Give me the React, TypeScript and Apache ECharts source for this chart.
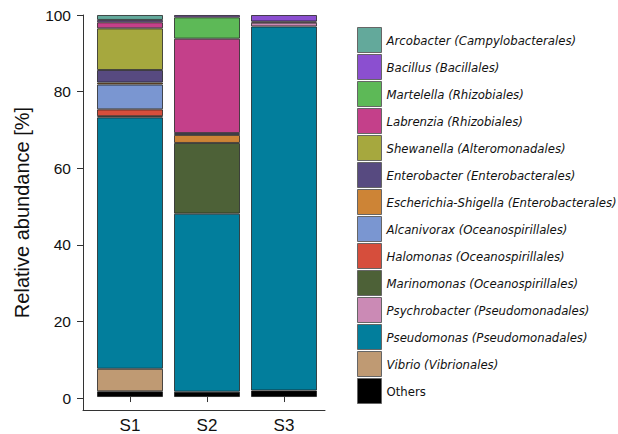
import React, { useEffect, useRef } from "react";
import * as echarts from "echarts";

// Samples
const samples = ["S1", "S2", "S3"];

// Taxa (bottom of stack first), values in % for S1, S2, S3
const taxa = [
  "Others",
  "Vibrio (Vibrionales)",
  "Pseudomonas (Pseudomonadales)",
  "Psychrobacter (Pseudomonadales)",
  "Marinomonas (Oceanospirillales)",
  "Halomonas (Oceanospirillales)",
  "Alcanivorax (Oceanospirillales)",
  "Escherichia-Shigella (Enterobacterales)",
  "Enterobacter (Enterobacterales)",
  "Shewanella (Alteromonadales)",
  "Labrenzia (Rhizobiales)",
  "Martelella (Rhizobiales)",
  "Bacillus (Bacillales)",
  "Arcobacter (Campylobacterales)",
];

const others = [1.5, 1.4, 1.7];
const vibrio = [5.9, 0, 0];
const pseudomonas = [65.8, 46.6, 95.3];
const psychrobacter = [0, 0, 1.0];
const marinomonas = [0.3, 18.5, 0];
const halomonas = [1.8, 0, 0];
const alcanivorax = [6.5, 0, 0];
const escherichia = [0.5, 2.1, 0];
const enterobacter = [3.3, 0.5, 0];
const shewanella = [10.9, 0, 0];
const labrenzia = [1.6, 24.7, 0.3];
const martelella = [0, 5.6, 0];
const bacillus = [0.6, 0.6, 1.7];
const arcobacter = [1.3, 0, 0];

const values = [
  others,
  vibrio,
  pseudomonas,
  psychrobacter,
  marinomonas,
  halomonas,
  alcanivorax,
  escherichia,
  enterobacter,
  shewanella,
  labrenzia,
  martelella,
  bacillus,
  arcobacter,
];

const colors = [
  "#000000",
  "#bf9a73",
  "#027e9c",
  "#cb8ab5",
  "#4d6137",
  "#d64e3c",
  "#7a96d1",
  "#cd8436",
  "#574a80",
  "#a6a83e",
  "#c4408a",
  "#5db957",
  "#8b4fd0",
  "#63a99b",
];

const yTicks = [0, 20, 40, 60, 80, 100];
const Y_MIN = -3.13;
const Y_MAX = 100;

const FONT = "'Liberation Sans', Arial, Helvetica, sans-serif";
const NARROW = "'DejaVu Sans Condensed', 'Liberation Sans', sans-serif";

export default function App() {
  const ref = useRef<HTMLDivElement>(null);

  useEffect(() => {
    if (!ref.current) return;
    const chart = echarts.init(ref.current, null, { renderer: "svg" });

    const series = taxa.map((name, k) => ({
      name,
      type: "bar",
      stack: "total",
      barWidth: 66,
      xAxisIndex: 1,
      yAxisIndex: 1,
      data: values[k].map((v) =>
        v > 0 ? v : { value: 0, itemStyle: { borderWidth: 0 } }
      ),
      itemStyle: {
        color: colors[k],
        borderColor: "rgba(25,25,25,0.75)",
        borderWidth: 1,
      },
    }));

    const legendData = [...taxa].reverse().map((name) =>
      name === "Others"
        ? { name, textStyle: { fontStyle: "normal" } }
        : { name }
    );

    const axisLineStyle = { color: "#333", width: 1 };

    chart.setOption({
      animation: false,
      backgroundColor: "#ffffff",
      grid: [
        { left: 83, top: 15, width: 242, height: 395 },
        { left: 91.5, top: 15, width: 231, height: 395 },
      ],
      xAxis: [
        {
          // frame axis: only the axis line across the full panel
          type: "value",
          gridIndex: 0,
          min: 0,
          max: 1,
          splitLine: { show: false },
          axisTick: { show: false },
          axisLabel: { show: false },
          axisLine: { show: true, onZero: false, lineStyle: axisLineStyle },
        },
        {
          type: "category",
          gridIndex: 1,
          data: samples,
          axisLine: { show: false },
          axisTick: { show: true, alignWithLabel: true, length: 5, lineStyle: { color: "#333" } },
          axisLabel: {
            fontFamily: FONT,
            fontSize: 17,
            color: "#111",
            margin: 8,
          },
        },
      ],
      yAxis: [
        {
          type: "value",
          gridIndex: 0,
          min: Y_MIN,
          max: Y_MAX,
          name: "Relative abundance [%]",
          nameLocation: "middle",
          nameGap: 51,
          nameRotate: 90,
          nameTextStyle: { fontFamily: FONT, fontSize: 20, color: "#111" },
          splitLine: { show: false },
          axisLine: { show: true, onZero: false, lineStyle: axisLineStyle },
          axisTick: { show: true, length: 6, customValues: yTicks, lineStyle: { color: "#333" } },
          axisLabel: {
            customValues: yTicks,
            fontFamily: FONT,
            fontSize: 15.5,
            color: "#111",
            margin: 12,
          },
        },
        {
          type: "value",
          gridIndex: 1,
          min: Y_MIN,
          max: Y_MAX,
          show: false,
          splitLine: { show: false },
        },
      ],
      legend: {
        orient: "vertical",
        left: 357,
        top: 27,
        padding: 0,
        itemWidth: 24,
        itemHeight: 25,
        itemGap: 1,
        icon: "rect",
        selectedMode: false,
        itemStyle: { borderColor: "#666", borderWidth: 1 },
        textStyle: {
          fontFamily: NARROW,
          fontSize: 13,
          fontStyle: "italic",
          color: "#111",
        },
        data: legendData,
      },
      series,
    });

    return () => chart.dispose();
  }, []);

  return (
    <div
      ref={ref}
      style={{ position: "fixed", left: 0, top: 0, width: 618, height: 434 }}
    />
  );
}
